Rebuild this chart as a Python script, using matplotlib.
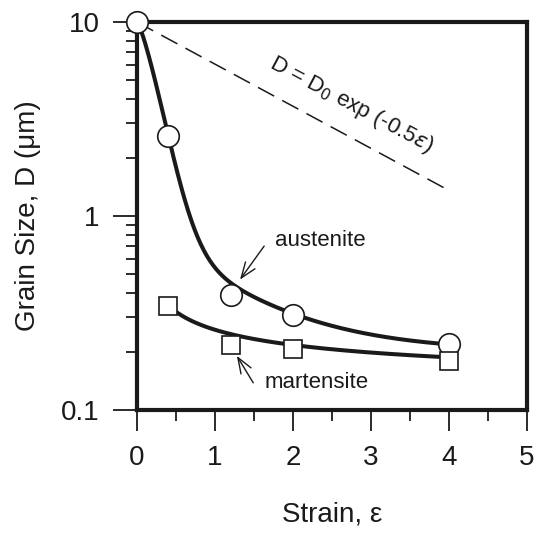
import numpy as np
import matplotlib.pyplot as plt
from matplotlib.ticker import FixedLocator, NullFormatter

plt.rcParams["font.family"] = ["Liberation Sans", "DejaVu Sans"]

# measured grain sizes (um)
aus_strain = [0.0, 0.4, 1.2, 2.0, 4.0]
aus_size = [10.0, 2.6, 0.39, 0.31, 0.22]
mar_strain = [0.4, 1.2, 2.0, 4.0]
mar_size = [0.345, 0.216, 0.207, 0.178]

# reference relation D = D0 exp(-0.5 eps)
d0 = 10.0
ref_k = 0.5
ref_range = [0.0, 4.0]

# trend-curve parameters
aus_fit = dict(c=0.2, b=0.73, k2=0.93, a=9.07, k1=5.14, p=1.3)
mar_fit = dict(c=0.12, a=0.139, n=0.53)


def aus_curve(e):
    f = aus_fit
    return f["c"] + f["b"] * np.exp(-f["k2"] * e) + f["a"] * np.exp(-f["k1"] * e ** f["p"])


def mar_curve(e):
    f = mar_fit
    return f["c"] + f["a"] * e ** (-f["n"])


ink = "#1a1a1a"
fig = plt.figure(figsize=(5.34, 5.38), dpi=100)
ax = fig.add_axes([0.2566, 0.238, 0.7304, 0.721])

e_a = np.linspace(0.0, 4.0, 300)
e_m = np.linspace(0.4, 4.0, 300)
ax.plot(e_a, aus_curve(e_a), color=ink, lw=2.9, zorder=2)
ax.plot(e_m, mar_curve(e_m), color=ink, lw=2.9, zorder=2)

e_r = np.linspace(ref_range[0], ref_range[1], 50)
ax.plot(e_r, d0 * np.exp(-ref_k * e_r), color=ink, lw=1.1,
        dashes=(12, 6), zorder=1)

ax.plot(aus_strain, aus_size, "o", ms=15.5, mfc="white", mec=ink,
        mew=1.2, zorder=3, clip_on=False)
ax.plot(mar_strain, mar_size, "s", ms=13.5, mfc="white", mec=ink,
        mew=1.2, zorder=3, clip_on=False)

ax.set_yscale("log")
ax.set_xlim(0, 5)
ax.set_ylim(0.1, 10)

ax.xaxis.set_major_locator(FixedLocator([0, 1, 2, 3, 4, 5]))
ax.xaxis.set_minor_locator(FixedLocator([0.5, 1.5, 2.5, 3.5, 4.5]))
ax.set_xticklabels(["0", "1", "2", "3", "4", "5"])
ax.yaxis.set_major_locator(FixedLocator([0.1, 1, 10]))
ax.set_yticklabels(["0.1", "1", "10"])
ax.yaxis.set_minor_locator(FixedLocator(
    [m * 10.0 ** d for d in (-1, 0) for m in range(2, 10)]))
ax.yaxis.set_minor_formatter(NullFormatter())

ax.tick_params(which="major", direction="out", length=15, width=1.3,
               labelsize=20, colors=ink, pad=10)
ax.tick_params(which="minor", direction="out", length=8, width=1.3,
               colors=ink)
ax.tick_params(axis="y", which="major", length=17)

for s in ax.spines.values():
    s.set_linewidth(3.0)
    s.set_color(ink)

ax.set_xlabel("Strain, ε", fontsize=20, labelpad=22, color=ink)
ax.set_ylabel("Grain Size, D (μm)", fontsize=20, labelpad=14, color=ink)

ax.text(2.75, 3.75, r"D = D$_0$ exp (-0.5$\varepsilon$)", fontsize=16,
        rotation=-28, ha="center", va="center", color=ink)

arrow = dict(arrowstyle="->, head_length=0.8, head_width=0.3", lw=1.0,
             color=ink, shrinkA=0, shrinkB=0, mutation_scale=14)
ax.text(1.77, 0.745, "austenite", fontsize=16, ha="left", va="center",
        color=ink)
ax.annotate("", xy=(1.32, 0.47), xytext=(1.63, 0.70), arrowprops=arrow)
ax.text(1.64, 0.138, "martensite", fontsize=16, ha="left", va="center",
        color=ink)
ax.annotate("", xy=(1.28, 0.19), xytext=(1.49, 0.138), arrowprops=arrow)

fig.savefig("out.png", dpi=100)
